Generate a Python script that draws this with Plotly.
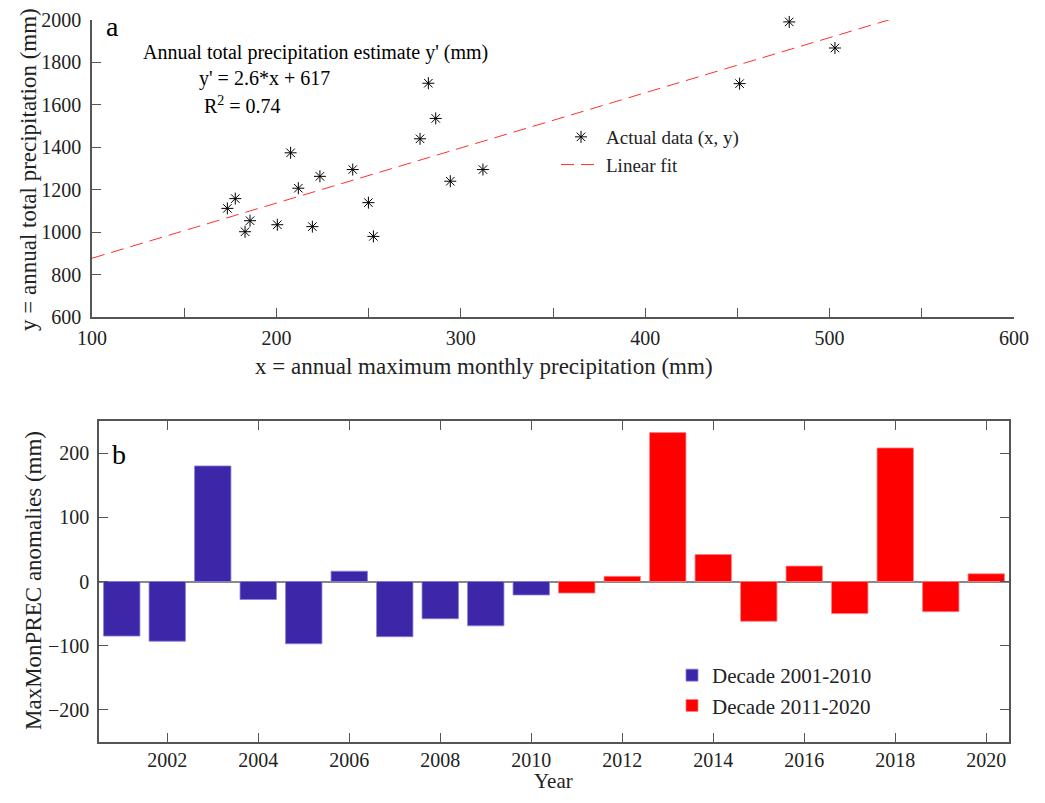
import plotly.graph_objects as go

# ---- Panel a data ----
max_monthly = [173.4, 177.7, 183.0, 185.7, 200.5, 207.7, 211.9, 219.5, 223.6, 241.4,
               249.9, 252.6, 277.9, 282.4, 286.4, 294.3, 312.0, 451.2, 478.1, 502.9]
annual_total = [1112, 1158, 1002, 1054, 1035, 1374, 1207, 1026, 1263, 1295,
                1139, 980, 1440, 1702, 1536, 1240, 1295, 1700, 1991, 1868]
fit_slope = 2.6
fit_intercept = 617
fit_x = [100, 533]
fit_y = [fit_slope * v + fit_intercept for v in fit_x]

# ---- Panel b data ----
years_1 = [2001, 2002, 2003, 2004, 2005, 2006, 2007, 2008, 2009, 2010]
anom_1 = [-85, -93, 180, -28, -97, 16, -86, -58, -69, -21]
years_2 = [2011, 2012, 2013, 2014, 2015, 2016, 2017, 2018, 2019, 2020]
anom_2 = [-18, 8, 232, 42, -62, 24, -50, 208, -47, 12]

FONT = "Times New Roman, Liberation Serif, serif"
OFF = 8  # default page body margin
W, H = 1045 - 2 * OFF, 803 - 2 * OFF
AX = "#555555"
TXT = "#222222"

def px_x(p):
    return (p - OFF) / W

def px_y(p):
    return 1 - (p - OFF) / H

fig = go.Figure()

fig.add_trace(go.Scatter(
    x=max_monthly, y=annual_total, mode="markers", name="Actual data (x, y)", cliponaxis=False,
    marker=dict(symbol="asterisk-open", size=10, color="black", line=dict(width=1, color="black")),
    xaxis="x", yaxis="y", legend="legend"))
fig.add_trace(go.Scatter(
    x=fit_x, y=fit_y, mode="lines", name="Linear fit", cliponaxis=False,
    line=dict(color="#ff3030", width=1, dash="13px,7px"),
    xaxis="x", yaxis="y", legend="legend"))

fig.add_trace(go.Bar(
    x=years_1, y=anom_1, name="Decade 2001-2010", width=0.8,
    marker=dict(color="#3d27a8", line=dict(color="#8a80d8", width=0.8)),
    xaxis="x2", yaxis="y2", legend="legend2"))
fig.add_trace(go.Bar(
    x=years_2, y=anom_2, name="Decade 2011-2020", width=0.8,
    marker=dict(color="#ff0000", line=dict(color="#ff8080", width=0.8)),
    xaxis="x2", yaxis="y2", legend="legend2"))

tickfont = dict(family=FONT, size=20, color=TXT)

common = dict(ticks="inside", ticklen=9, tickcolor=AX, showline=True, linecolor=AX, linewidth=1.5,
              showgrid=False, tickfont=tickfont, automargin=False)

def title_ann(text, x, y, angle=0, size=23):
    return dict(text=text, x=px_x(x), y=px_y(y), xref="paper", yref="paper", showarrow=False,
                xanchor="center", yanchor="middle", textangle=angle,
                font=dict(family=FONT, size=size, color=TXT))

fig.update_layout(
    width=W, height=H,
    margin=dict(l=0, r=0, t=0, b=0),
    paper_bgcolor="white", plot_bgcolor="white",
    font=dict(family=FONT, color=TXT),
    barmode="overlay",
    xaxis=dict(domain=[px_x(92), px_x(1014)], range=[100, 600], dtick=100, tick0=100,
               zeroline=False, ticklabelstandoff=2,
               minor=dict(dtick=50, tick0=100, ticks="inside", ticklen=9, tickcolor=AX),
               anchor="y", **common),
    yaxis=dict(domain=[px_y(317), px_y(20)], range=[600, 2000], dtick=200, zeroline=False,
               ticklabelstandoff=5, anchor="x", **common),
    xaxis2=dict(domain=[px_x(99), px_x(1009)], range=[2000.5, 2020.5], dtick=2, tick0=2000,
                mirror="ticks", zeroline=False, ticklabelstandoff=-1, anchor="y2", **common),
    yaxis2=dict(domain=[px_y(742), px_y(421)], range=[-250, 250], dtick=100,
                mirror="ticks", zeroline=True, zerolinecolor="#888888", zerolinewidth=2,
                ticklabelstandoff=4, anchor="x2", **common),
    legend=dict(x=px_x(556), y=px_y(118), xanchor="left", yanchor="top",
                bgcolor="rgba(0,0,0,0)", font=dict(family=FONT, size=19, color=TXT),
                tracegroupgap=0, itemwidth=40),
    legend2=dict(x=px_x(672), y=px_y(655), xanchor="left", yanchor="top",
                 bgcolor="rgba(0,0,0,0)", font=dict(family=FONT, size=21, color=TXT),
                 tracegroupgap=0),
    annotations=[
        dict(text="a", x=px_x(104), y=px_y(26), xref="paper", yref="paper", showarrow=False,
             xanchor="left", yanchor="middle", font=dict(family=FONT, size=28, color="black")),
        dict(text="b", x=px_x(110), y=px_y(455), xref="paper", yref="paper", showarrow=False,
             xanchor="left", yanchor="middle", font=dict(family=FONT, size=28, color="black")),
        dict(text="Annual total precipitation estimate y' (mm)", x=px_x(141), y=px_y(53),
             xref="paper", yref="paper", showarrow=False, xanchor="left", yanchor="middle",
             font=dict(family=FONT, size=20, color="black")),
        dict(text="y' = 2.6*x + 617", x=px_x(197), y=px_y(78),
             xref="paper", yref="paper", showarrow=False, xanchor="left", yanchor="middle",
             font=dict(family=FONT, size=20, color="black")),
        dict(text="R<sup>2</sup> = 0.74", x=px_x(202), y=px_y(105),
             xref="paper", yref="paper", showarrow=False, xanchor="left", yanchor="middle",
             font=dict(family=FONT, size=20, color="black")),
        title_ann("x = annual maximum monthly precipitation (mm)", 484, 366),
        title_ann("y = annual total precipitation (mm)", 28, 170, -90),
        title_ann("MaxMonPREC anomalies (mm)", 33, 581, -90),
        dict(text="Year", x=px_x(553), y=0, xref="paper", yref="paper", showarrow=False,
             xanchor="center", yanchor="bottom", font=dict(family=FONT, size=21, color=TXT)),
    ],
)

fig.write_html("out.html")
